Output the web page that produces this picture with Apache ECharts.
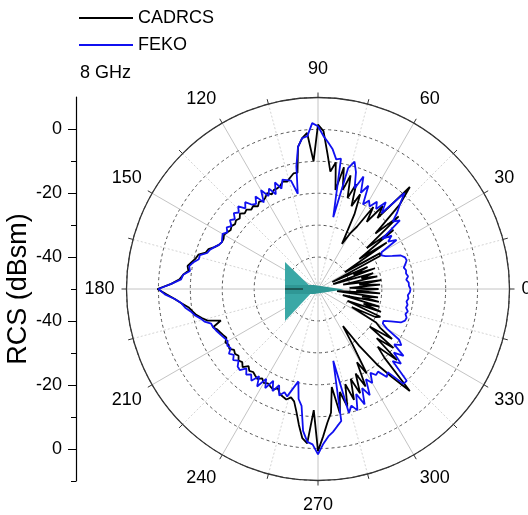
<!DOCTYPE html>
<html><head><meta charset="utf-8">
<script src="https://cdn.jsdelivr.net/npm/echarts@6/dist/echarts.min.js"></script>
<style>html,body{margin:0;padding:0;background:#fff}#c{width:528px;height:515px}</style>
</head><body><div id="c"></div>
<script>
// sampling angles (degrees)
const angles = [0,2,4,6,8,10,12,14,16,18,20,22,24,26,28,30,32,34,36,38,40,42,44,46,48,50,52,54,56,58,60,62,64,66,68,70,72,74,76,78,80,82,84,86,88,90,
92,94,96,98,100,102,104,106,108,110,112,114,116,118,120,122,124,126,128,130,132,134,136,138,140,142,144,146,148,150,152,154,156,158,160,162,164,166,168,170,172,174,176,178,180,
182,184,186,188,190,192,194,196,198,200,202,204,206,208,210,212,214,216,218,220,222,224,226,228,230,232,234,236,238,240,242,244,246,248,250,252,254,256,258,260,262,264,266,268,270,
272,274,276,278,280,282,284,286,288,290,292,294,296,298,300,302,304,306,308,310,312,314,316,318,320,322,324,326,328,330,332,334,336,338,340,342,344,346,348,350,352,354,356,358];

// CADRCS (dBsm)
const cadrcs = [-31,-40,-30.5,-37,-30,-42,-31,-36,-32,-45,-31,-38,-33,-45,-28,-27.5,-40,-24,-34,-20,-30,-16,-25,-13,-7,-21,-17,-24,-19,-27,-30,-34,-24,-17.5,-22,-15,-20,-13,-18,-11,-18.5,-10,-13,-7.5,-0.5,1.5,
-10,-1,-2.5,-5,-13,-13,-14,-15,-14.5,-15.5,-16,-16,-17,-16,-17,-17.5,-17,-18,-17,-17.5,-16.5,-17,-16,-17,-16.5,-17,-16.5,-17,-16.5,-16,-16.5,-16.5,-16,-15,-13.5,-13,-11,-10.5,-9.5,-8.5,-9,-7.5,-6.5,-4,0.3,
-2.5,-5,-7,-9,-10,-11,-12.5,-14,-18,-15,-16,-16.5,-17,-17.5,-16.5,-17,-16.5,-17.5,-17,-17.5,-16.5,-17,-16,-17.5,-16.5,-17,-16.5,-16,-17,-16,-16.5,-16,-15.5,-16.5,-15,-14.5,-14,-15,-14,-11,-7,-3,-1.5,-12,0.8,
-3.8,-8,-11,-19,-10.5,-17,-12,-19,-13.5,-20,-14.8,-21,-16,-24,-19.5,-30,-36,-28,-20,-14,-7,-20,-24,-16.7,-26,-20,-30,-22,-27,-29,-38,-30,-28.6,-40,-29,-35,-30,-42,-30.5,-36,-31,-44,-30.5,-38];

// FEKO (dBsm)
const feko = [-21,-21.5,-21.5,-22.2,-21.5,-22,-21.8,-22.3,-21.5,-20.8,-21,-22,-24.5,-26.5,-27.5,-27,-21,-23.5,-21.5,-24.5,-16.5,-18.5,-15.5,-13,-9.5,-19,-15.5,-19,-17,-19.5,-18,-20,-14,-17,-12,-16.5,-11.5,-8.5,-11,-27,-8.5,-9,-6,-4,-2,1,
2,-2,-2.5,-5,-11,-19.5,-15,-14.5,-14,-16.5,-14,-17.5,-15,-17,-14.3,-18,-15,-17,-16.5,-14.5,-16,-14,-15.5,-14.5,-16,-15,-16.5,-15.5,-16.5,-15.5,-16,-16.5,-16,-15,-14,-13.5,-11.5,-11.5,-10,-9,-9.5,-7.5,-7,-4,0,
-2,-5,-7,-8,-9.5,-10.5,-12,-13,-14.8,-15,-15.5,-16,-16.5,-17,-17.3,-16.5,-17,-15.5,-16.5,-15.3,-16.5,-15,-14.7,-16.5,-15,-16,-14.5,-17,-14,-17.5,-14.8,-18,-15,-17.5,-14.5,-16,-15,-18,-20.4,-15,-13,-5.3,-2,-1.3,1.8,
-1.5,-3.7,-5,-6.6,-8,-27,-10,-12,-10,-15,-11,-16,-13,-18,-16,-19,-17.5,-18,-15,-16,-10,-10,-17.5,-15,-19,-16,-20.5,-18.5,-20,-25,-27,-27.2,-25,-22,-21,-20.8,-21.5,-21,-21.8,-21.5,-22,-21.5,-21.8,-21.2];

const angleTicks = [0,30,60,90,120,150,180,210,240,270,300,330];
const radiusTicks = [-50,-40,-30,-20,-10,0,10];

function toPolar(vals){
  const d = angles.map((a,i)=>[vals[i], a]);
  d.push([vals[0], 360]);
  return d;
}

const chart = echarts.init(document.getElementById('c'), null, {renderer:'canvas'});
const FONT = 'Liberation Sans, Arial, sans-serif';
const CX = 318, CY = 289;

// style key per angle label (small nudges)
const labelStyleKey = {90: 'u7', 60: 'u5', 120: 'u5', 240: 'd4', 270: 'd4', 300: 'd4'};

chart.setOption({
  animation: false,
  backgroundColor: '#fff',
  textStyle: {fontFamily: FONT},
  title: {text: '8 GHz', left: 75, top: 59, textStyle: {fontSize: 18, fontWeight: 'normal', color: '#000', fontFamily: FONT}},
  legend: {
    orient: 'vertical', left: 74, top: 4, itemWidth: 54, itemHeight: 2, itemGap: 9, icon: 'rect',
    textStyle: {fontSize: 18, color: '#000', fontFamily: FONT},
    data: ['CADRCS','FEKO']
  },
  polar: {center: [CX, CY], radius: 191.5},
  angleAxis: {
    type: 'value', min: 0, max: 360, interval: 30, startAngle: 0, clockwise: false,
    axisLine: {show: true, lineStyle: {color: '#333', width: 1.3}},
    axisTick: {show: true, length: 5, lineStyle: {color: '#333'}},
    minorTick: {show: true, splitNumber: 2, length: 5, lineStyle: {color: '#333'}},
    axisLabel: {show: true, margin: 12, fontSize: 18, color: '#000', fontFamily: FONT,
      formatter: v => {
        if (v === 360) return '';
        const k = labelStyleKey[v];
        return k ? '{' + k + '|' + v + '}' : String(v);
      },
      rich: {
        u7: {padding: [0,0,7,0], fontSize: 18, color: '#000', fontFamily: FONT},
        u5: {padding: [0,0,5,0], fontSize: 18, color: '#000', fontFamily: FONT},
        d4: {padding: [4,0,0,0], fontSize: 18, color: '#000', fontFamily: FONT}
      }},
    splitLine: {show: true, lineStyle: {color: '#c4c4c4', width: 1}},
    minorSplitLine: {show: true, lineStyle: {color: '#d4d4d4', width: 1, type: [2,2]}}
  },
  radiusAxis: {
    type: 'value', min: radiusTicks[0], max: radiusTicks[radiusTicks.length-1], interval: 10,
    axisLine: {show: false}, axisTick: {show: false}, axisLabel: {show: false},
    splitLine: {show: true, lineStyle: {color: '#555', width: 1, type: [3,3]}}
  },
  grid: {left: 76, top: 97, width: 10, height: 384},
  xAxis: {type: 'value', show: false, gridIndex: 0},
  yAxis: [{
    type: 'value', min: -60, max: 60, interval: 10, position: 'left',
    axisLine: {show: true, lineStyle: {color: '#000', width: 1.2}},
    axisTick: {show: true, length: 8, customValues: [-50,-30,-10,10,30,50], lineStyle: {color: '#000'}},
    axisLabel: {show: true, margin: 14, fontSize: 18, color: '#000', fontFamily: FONT,
      customValues: [-50,-30,-10,10,30,50], formatter: v => String(Math.abs(v) - 50)},
    splitLine: {show: false},
    name: 'RCS (dBsm)', nameLocation: 'middle', nameGap: 42, nameRotate: 90,
    nameTextStyle: {fontSize: 27, color: '#000', fontFamily: FONT}
  },{
    type: 'value', min: -60, max: 60, interval: 10, position: 'left', offset: 0,
    axisLine: {show: false},
    axisTick: {show: true, length: 5, customValues: [-60,-40,-20,0,20,40], lineStyle: {color: '#000'}},
    axisLabel: {show: false}, splitLine: {show: false}
  }],
  series: [
    {name: 'CADRCS', type: 'line', coordinateSystem: 'polar', data: toPolar(cadrcs),
     symbol: 'none', lineStyle: {color: '#000', width: 1.8}, itemStyle: {color: '#000'}, z: 3},
    {name: 'FEKO', type: 'line', coordinateSystem: 'polar', data: toPolar(feko),
     symbol: 'none', lineStyle: {color: '#1010f0', width: 1.8}, itemStyle: {color: '#1010f0'}, z: 4}
  ],
  graphic: [
    {type: 'polygon', z: 100, shape: {points: [[285,262],[285,321],[314,290]]}, style: {fill: '#3aa8a6'}},
    {type: 'polygon', z: 101, shape: {points: [[285,285],[314,285],[344,289.5],[314,294],[285,294]]}, style: {fill: '#2f9795'}},
    {type: 'rect', z: 102, shape: {x: 285, y: 288, width: 18, height: 2}, style: {fill: '#1d5a58'}}
  ]
});
</script></body></html>
